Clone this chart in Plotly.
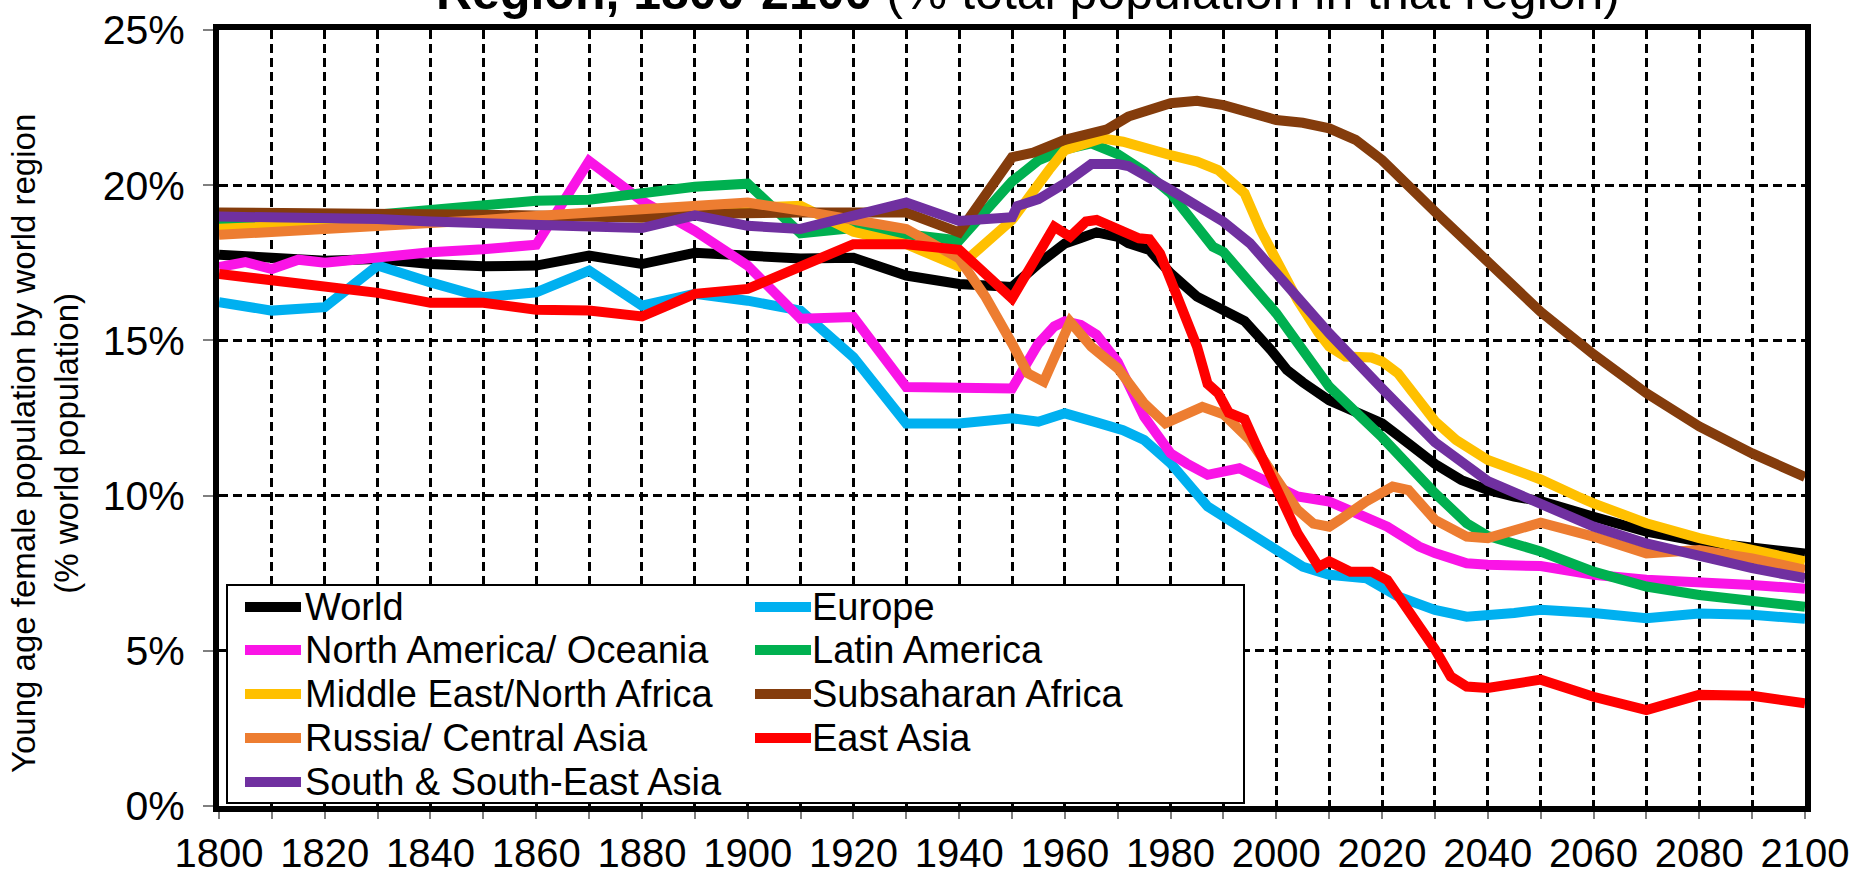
import plotly.graph_objects as go

# ---------------- data ----------------
world_years = [1800, 1810, 1820, 1830, 1840, 1850, 1860, 1870, 1880, 1890, 1900, 1910, 1920, 1930, 1940,
               1950, 1955, 1960, 1963, 1966, 1970, 1972, 1976, 1980, 1985, 1989, 1994, 1999, 2002, 2005,
               2010, 2015, 2020, 2025, 2030, 2035, 2040, 2045, 2050, 2060, 2070, 2080, 2090, 2100]
world_values = [17.76, 17.68, 17.57, 17.62, 17.46, 17.39, 17.41, 17.73, 17.46, 17.82, 17.70, 17.64, 17.66, 17.09, 16.82,
                16.72, 17.47, 18.12, 18.30, 18.48, 18.34, 18.13, 17.91, 17.16, 16.41, 16.07, 15.62, 14.69, 14.05, 13.65,
                13.07, 12.70, 12.33, 11.68, 11.02, 10.50, 10.18, 9.97, 9.82, 9.32, 8.84, 8.52, 8.30, 8.13]

europe_years = [1800, 1810, 1820, 1830, 1840, 1850, 1860, 1870, 1880, 1890, 1900, 1910, 1920, 1930, 1940,
                1950, 1955, 1960, 1966, 1971, 1975, 1980, 1987, 1993, 2000, 2005, 2010, 2017, 2023, 2030,
                2036, 2040, 2045, 2050, 2055, 2060, 2070, 2080, 2090, 2100]
europe_values = [16.23, 15.96, 16.07, 17.41, 16.87, 16.39, 16.55, 17.25, 16.12, 16.50, 16.28, 15.96, 14.46, 12.32, 12.32,
                 12.49, 12.38, 12.65, 12.36, 12.11, 11.79, 11.04, 9.65, 9.00, 8.25, 7.71, 7.45, 7.34, 6.75, 6.32,
                 6.10, 6.12, 6.22, 6.32, 6.30, 6.22, 6.05, 6.20, 6.16, 6.03]

nam_years = [1800, 1805, 1810, 1815, 1820, 1830, 1840, 1850, 1860, 1870, 1880, 1890, 1900, 1910, 1920, 1930, 1940,
             1950, 1955, 1958, 1960, 1963, 1966, 1970, 1975, 1980, 1983, 1987, 1993, 1998, 2004, 2010, 2016,
             2021, 2027, 2030, 2036, 2040, 2050, 2057, 2060, 2070, 2080, 2090, 2100]
nam_values = [17.36, 17.52, 17.30, 17.60, 17.50, 17.68, 17.84, 17.94, 18.08, 20.78, 19.50, 18.53, 17.41, 15.70, 15.75, 13.50, 13.50,
              13.45, 14.90, 15.45, 15.62, 15.50, 15.18, 14.30, 12.54, 11.36, 11.04, 10.67, 10.88, 10.50, 9.97, 9.81, 9.32,
              9.00, 8.36, 8.15, 7.82, 7.77, 7.73, 7.50, 7.45, 7.29, 7.23, 7.12, 7.00]

latam_years = [1800, 1810, 1820, 1830, 1840, 1850, 1860, 1870, 1880, 1890, 1900, 1910, 1920, 1930, 1940,
               1950, 1955, 1960, 1965, 1970, 1975, 1980, 1988, 1990, 2000, 2010, 2020, 2030, 2036, 2040,
               2050, 2060, 2070, 2080, 2090, 2100]
latam_values = [18.69, 18.75, 18.90, 19.07, 19.23, 19.37, 19.50, 19.53, 19.73, 19.95, 20.05, 18.45, 18.62, 18.43, 18.22,
                20.12, 20.80, 21.15, 21.35, 21.00, 20.45, 19.74, 18.02, 17.85, 15.87, 13.51, 11.88, 10.08, 9.11, 8.70,
                8.20, 7.55, 7.07, 6.80, 6.58, 6.42]

mena_years = [1800, 1810, 1820, 1830, 1840, 1850, 1860, 1870, 1880, 1890, 1900, 1910, 1920, 1930, 1940,
              1950, 1957, 1960, 1967, 1971, 1980, 1985, 1989, 1994, 1997, 2000, 2004, 2008, 2010, 2013,
              2018, 2020, 2023, 2030, 2034, 2040, 2050, 2057, 2060, 2070, 2080, 2090, 2100]
mena_values = [18.60, 18.68, 18.75, 18.80, 18.85, 18.90, 18.95, 19.00, 19.05, 19.20, 19.30, 19.34, 18.50, 18.10, 17.38,
               18.88, 20.49, 21.13, 21.51, 21.40, 20.97, 20.76, 20.49, 19.74, 18.56, 17.59, 16.30, 15.24, 14.80, 14.48,
               14.45, 14.32, 13.94, 12.40, 11.79, 11.15, 10.52, 9.97, 9.75, 9.11, 8.63, 8.25, 7.88]

ssa_years = [1800, 1810, 1820, 1830, 1840, 1850, 1860, 1870, 1880, 1890, 1900, 1910, 1920, 1930, 1940,
             1950, 1954, 1960, 1968, 1972, 1980, 1985, 1990, 1995, 2000, 2005, 2010, 2015, 2020, 2030,
             2040, 2050, 2060, 2070, 2080, 2090, 2100]
ssa_values = [19.12, 19.12, 19.10, 19.10, 19.08, 19.05, 19.02, 19.00, 18.95, 19.07, 19.12, 19.12, 19.12, 19.12, 18.48,
              20.90, 21.05, 21.46, 21.80, 22.21, 22.64, 22.72, 22.58, 22.32, 22.10, 22.01, 21.83, 21.46, 20.81, 19.15,
              17.54, 15.92, 14.55, 13.30, 12.23, 11.36, 10.60]

rca_years = [1800, 1810, 1820, 1830, 1840, 1850, 1860, 1870, 1880, 1890, 1900, 1910, 1920, 1930, 1940,
             1945, 1950, 1953, 1956, 1958, 1961, 1965, 1970, 1975, 1979, 1986, 1990, 1995, 2000, 2004,
             2007, 2010, 2012, 2017, 2022, 2025, 2030, 2036, 2040, 2050, 2060, 2070, 2080, 2090, 2100]
rca_values = [18.40, 18.48, 18.59, 18.67, 18.77, 18.88, 19.01, 19.12, 19.20, 19.28, 19.44, 19.18, 18.85, 18.59, 17.64,
              16.40, 14.90, 13.94, 13.67, 14.40, 15.60, 14.80, 14.10, 12.97, 12.33, 12.86, 12.62, 11.79, 10.61, 9.54,
              9.10, 9.00, 9.22, 9.81, 10.29, 10.18, 9.22, 8.68, 8.63, 9.13, 8.68, 8.14, 8.25, 7.98, 7.61]

easia_years = [1800, 1810, 1820, 1830, 1840, 1850, 1860, 1870, 1880, 1890, 1900, 1910, 1920, 1930, 1940,
               1950, 1955, 1958, 1961, 1964, 1966, 1970, 1974, 1976, 1978, 1980, 1982, 1985, 1987, 1989,
               1991, 1994, 1996, 1999, 2002, 2004, 2008, 2010, 2014, 2018, 2021, 2025, 2030, 2033, 2036,
               2040, 2045, 2050, 2060, 2070, 2080, 2090, 2100]
easia_values = [17.14, 16.93, 16.73, 16.53, 16.21, 16.21, 15.99, 15.96, 15.77, 16.50, 16.66, 17.36, 18.10, 18.10, 17.92,
                16.35, 17.70, 18.66, 18.34, 18.83, 18.88, 18.55, 18.29, 18.26, 17.80, 16.95, 16.09, 14.80, 13.60, 13.30,
                12.67, 12.46, 11.70, 10.61, 9.54, 8.79, 7.71, 7.88, 7.55, 7.55, 7.28, 6.32, 5.05, 4.17, 3.85,
                3.80, 3.96, 4.07, 3.52, 3.09, 3.58, 3.55, 3.31]

ssea_years = [1800, 1810, 1820, 1830, 1840, 1850, 1860, 1870, 1880, 1890, 1900, 1910, 1920, 1930, 1940,
              1950, 1951, 1955, 1960, 1965, 1970, 1972, 1980, 1985, 1990, 1995, 2000, 2005, 2010, 2020,
              2030, 2040, 2050, 2060, 2070, 2080, 2090, 2100]
ssea_values = [18.99, 18.98, 18.94, 18.91, 18.83, 18.80, 18.73, 18.67, 18.62, 19.03, 18.69, 18.59, 19.02, 19.44, 18.85,
               18.97, 19.33, 19.55, 20.06, 20.68, 20.68, 20.62, 19.85, 19.36, 18.82, 18.13, 17.16, 16.20, 15.23, 13.45,
               11.72, 10.47, 9.75, 9.00, 8.46, 8.04, 7.66, 7.34]

series_names = ["World", "Europe", "North America/ Oceania", "Latin America", "Middle East/North Africa",
                "Subsaharan Africa", "Russia/ Central Asia", "East Asia", "South & South-East Asia"]
series_colors = ["#000000", "#00B0F0", "#FA14E6", "#00B050", "#FFC000",
                 "#843C0C", "#ED7D31", "#FF0000", "#7030A0"]
series_years = [world_years, europe_years, nam_years, latam_years, mena_years,
                ssa_years, rca_years, easia_years, ssea_years]
series_values = [world_values, europe_values, nam_values, latam_values, mena_values,
                 ssa_values, rca_values, easia_values, ssea_values]

x_ticks = list(range(1800, 2101, 10))
x_ticktext = [str(y) if y % 20 == 0 else "" for y in x_ticks]
y_ticks = [0, 5, 10, 15, 20, 25]
y_ticktext = ["0%", "5%", "10%", "15%", "20%", "25%"]

title_bold = "Region, 1800-2100"
title_rest = " (% total population in that region)"
y_title = "Young age female population by world region<br>(% world population)"

# ---------------- layout geometry (pixels) ----------------
W, H = 1854, 876
L, R, T, B = 219, 1805, 30, 806
FONT = "Liberation Sans, Arial, Helvetica, sans-serif"


def px(x):
    return (x - L) / (R - L)


def py(y):
    return (B - y) / (B - T)


fig = go.Figure()
for name, color, xs, ys in zip(series_names, series_colors, series_years, series_values):
    fig.add_trace(go.Scatter(x=xs, y=ys, mode="lines", name=name,
                             line=dict(color=color, width=10),
                             showlegend=False,
                             hovertemplate="%{x}: %{y:.1f}%<extra>" + name + "</extra>"))

fig.update_layout(
    width=W, height=H,
    margin=dict(l=L, r=W - R, t=T, b=H - B, pad=0, autoexpand=False),
    plot_bgcolor="white", paper_bgcolor="white",
    font=dict(family=FONT, color="black"),
    showlegend=False,
)

axis_common = dict(showline=True, linewidth=6, linecolor="black", mirror=True,
                   showgrid=True, gridcolor="black", gridwidth=2.5, griddash="9px,5px",
                   ticks="outside", tickwidth=1.5, tickcolor="#7f7f7f",
                   zeroline=False, automargin=False)

fig.update_xaxes(range=[1800, 2100], tickmode="array", tickvals=x_ticks, ticktext=x_ticktext,
                 ticklen=7, ticklabelstandoff=0,
                 tickfont=dict(size=40, family=FONT, color="black"), **axis_common)
fig.update_yaxes(range=[0, 25], tickmode="array", tickvals=y_ticks, ticktext=y_ticktext,
                 ticklen=10, ticklabelstandoff=10,
                 tickfont=dict(size=41, family=FONT, color="black"), **axis_common)

shapes = []
annotations = []

# legend box
shapes.append(dict(type="rect", xref="paper", yref="paper",
                   x0=px(227), x1=px(1244), y0=py(803), y1=py(585),
                   line=dict(color="black", width=2), fillcolor="white", layer="above"))

row_y = [607, 650, 694, 738, 782]
col_line = [(245, 301), (755, 811)]
col_text = [304, 811]
legend_pos = [(0, 0), (1, 0), (0, 1), (1, 1), (0, 2), (1, 2), (0, 3), (1, 3), (0, 4)]
for (col, row), name, color in zip(legend_pos, series_names, series_colors):
    yy = row_y[row]
    shapes.append(dict(type="line", xref="paper", yref="paper",
                       x0=px(col_line[col][0]), x1=px(col_line[col][1]), y0=py(yy), y1=py(yy),
                       line=dict(color=color, width=10), layer="above"))
    annotations.append(dict(xref="paper", yref="paper", x=px(col_text[col]), y=py(yy),
                            xanchor="left", yanchor="middle", text=name, showarrow=False,
                            borderpad=0, font=dict(size=38, family=FONT, color="black")))

# y axis title
annotations.append(dict(xref="paper", yref="paper", x=px(45), y=py(444),
                        xanchor="center", yanchor="middle", textangle=-90,
                        text=y_title, showarrow=False, align="center",
                        font=dict(size=33, family=FONT, color="black")))

# chart title (upper part falls outside the page, as in the reference)
annotations.append(dict(xref="paper", yref="paper", x=px(1028), y=py(-8),
                        xanchor="center", yanchor="middle",
                        text="<b>" + title_bold + "</b>" + title_rest, showarrow=False,
                        font=dict(size=50, family=FONT, color="black")))

fig.update_layout(shapes=shapes, annotations=annotations)

fig.write_html("out.html",
               config={"displayModeBar": False},
               post_script="document.body.style.margin='0';document.body.style.overflow='hidden';")
